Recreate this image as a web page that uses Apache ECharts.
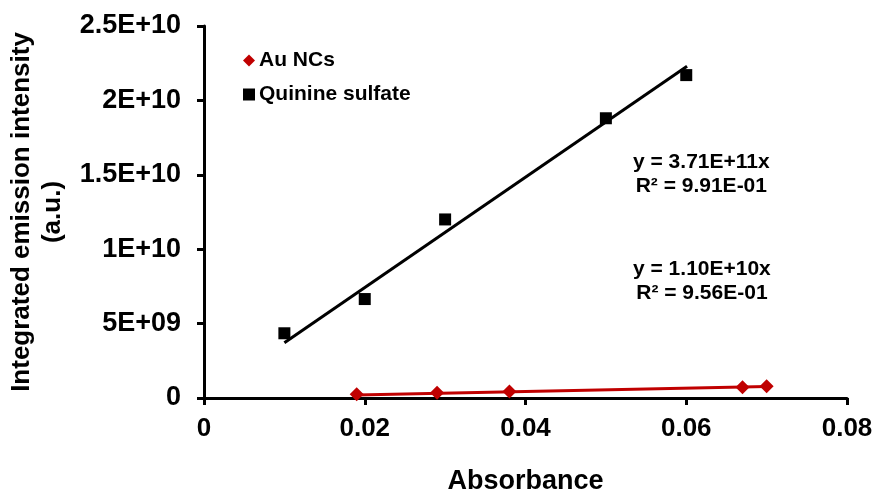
<!DOCTYPE html>
<html>
<head>
<meta charset="utf-8">
<script src="https://cdn.jsdelivr.net/npm/echarts@6/dist/echarts.min.js"></script>
<style>
  html,body{margin:0;padding:0;background:#fff;}
  #chart{width:877px;height:490px;}
</style>
</head>
<body>
<div id="chart"></div>
<script>
// absorbance values and integrated intensity
var auX = [0.019, 0.029, 0.038, 0.067, 0.070];
var auY = [2.5e8, 3.5e8, 4.3e8, 7.3e8, 7.9e8];
var qsX = [0.01, 0.02, 0.03, 0.05, 0.06];
var qsY = [4.35e9, 6.65e9, 1.2e10, 1.88e10, 2.17e10];

// linear fit lines (end points)
var auFit = [[0.019, 2.09e8], [0.070, 7.7e8]];
var qsFit = [[0.01, 3.71e9], [0.0601, 2.23e10]];

var xTickLabels = ['0', '0.02', '0.04', '0.06', '0.08'];
var yTickLabels = ['0', '5E+09', '1E+10', '1.5E+10', '2E+10', '2.5E+10'];

var FONT = "'Liberation Sans', Arial, sans-serif";
var RED = '#C00000';
var diamond = 'path://M0,-1L1,0L0,1L-1,0Z';

function pairs(xs, ys){
	var out = [];
	for(var i=0;i<xs.length;i++){
		out.push([xs[i], ys[i]]);
	}
	return out;
}

var myChart = echarts.init(document.getElementById('chart'));
myChart.setOption({
	animation: false,
	backgroundColor: '#fff',
	textStyle: {fontFamily: FONT},
	grid: {left: 204, right: 30, top: 26, bottom: 92, containLabel: false, outerBoundsMode: 'none'},
	legend: {
		orient: 'vertical',
		left: 238, top: 45,
		itemGap: 13, itemWidth: 12, itemHeight: 12,
		data: ['Au NCs', 'Quinine sulfate'],
		textStyle: {fontFamily: FONT, fontWeight: 'bold', fontSize: 21, color: '#000', padding: [0, 0, 0, -1]}
	},
	xAxis: {
		type: 'value', min: 0, max: 0.08, interval: 0.02,
		name: 'Absorbance', nameLocation: 'middle', nameGap: 70,
		nameTextStyle: {fontFamily: FONT, fontWeight: 'bold', fontSize: 27, color: '#000'},
		axisLine: {onZero: false, lineStyle: {color: '#000', width: 3}},
		axisTick: {show: true, length: 7, lineStyle: {color: '#000', width: 3}},
		axisLabel: {
			margin: 18, fontFamily: FONT, fontWeight: 'bold', fontSize: 26, color: '#000',
			formatter: function(v){ return xTickLabels[Math.round(v/0.02)]; }
		},
		splitLine: {show: false}
	},
	yAxis: {
		type: 'value', min: 0, max: 2.5e10, interval: 5e9,
		name: 'Integrated emission intensity\n(a.u.)', nameLocation: 'middle', nameGap: 130,
		nameRotate: 90,
		nameTextStyle: {fontFamily: FONT, fontWeight: 'bold', fontSize: 26, color: '#000', lineHeight: 31},
		axisLine: {show: true, lineStyle: {color: '#000', width: 3}},
		axisTick: {show: true, length: 7, lineStyle: {color: '#000', width: 3}},
		axisLabel: {
			margin: 23, fontFamily: FONT, fontWeight: 'bold', fontSize: 27, color: '#000',
			formatter: function(v){ return yTickLabels[Math.round(v/5e9)]; }
		},
		splitLine: {show: false}
	},
	graphic: [
		{type: 'text', left: 633, top: 150, style: {text: 'y = 3.71E+11x\nR² = 9.91E-01', fill: '#000', font: 'bold 21px ' + FONT, lineHeight: 24, textAlign: 'center'}},
		{type: 'text', left: 633, top: 257, style: {text: 'y = 1.10E+10x\nR² = 9.56E-01', fill: '#000', font: 'bold 21px ' + FONT, lineHeight: 24, textAlign: 'center'}}
	],
	series: [
		{
			name: 'Quinine sulfate fit', type: 'line', data: qsFit, symbol: 'none',
			lineStyle: {color: '#000', width: 3}, z: 2, silent: true
		},
		{
			name: 'Au NCs fit', type: 'line', data: auFit, symbol: 'none',
			lineStyle: {color: RED, width: 3}, z: 2, silent: true
		},
		{
			name: 'Au NCs', type: 'scatter', data: pairs(auX, auY),
			symbol: diamond, symbolSize: 14,
			itemStyle: {color: RED, opacity: 1}, z: 3
		},
		{
			name: 'Quinine sulfate', type: 'scatter', data: pairs(qsX, qsY),
			symbol: 'rect', symbolSize: 12,
			itemStyle: {color: '#000', opacity: 1}, z: 3
		}
	]
});
</script>
</body>
</html>
